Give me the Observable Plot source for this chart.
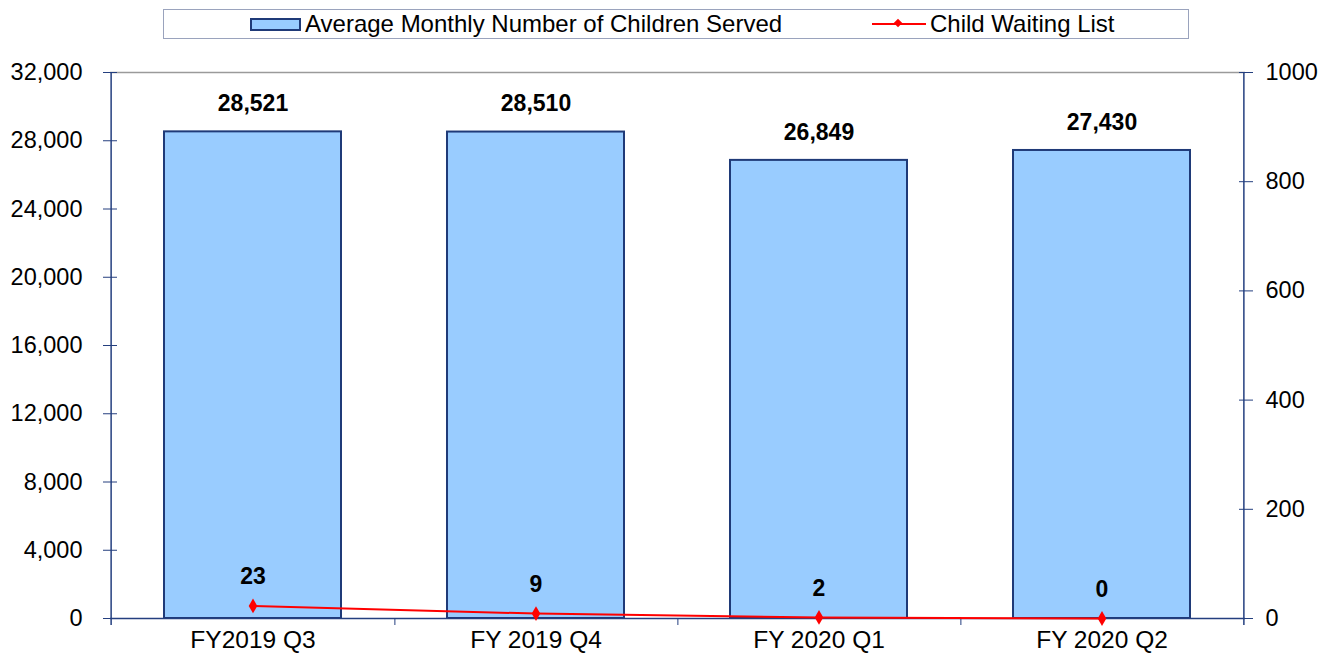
<!DOCTYPE html>
<html>
<head>
<meta charset="utf-8">
<script src="https://cdn.jsdelivr.net/npm/d3@7"></script>
<script src="https://cdn.jsdelivr.net/npm/@observablehq/plot@0.6"></script>
<style>
  html, body { margin: 0; padding: 0; background: #fff; }
  body { width: 1330px; height: 660px; overflow: hidden; font-family: "Liberation Sans", Arial, sans-serif; }
  #legend { position: relative; width: 1330px; height: 45px; }
  #legend .box { position: absolute; left: 163px; top: 9px; width: 1024px; height: 28px; border: 1px solid #9aa3bd; box-sizing: content-box; }
  #legend .item { position: absolute; top: 0; height: 28px; display: flex; align-items: center; font-size: 24px; color: #000; white-space: nowrap; }
  #legend .sw { width: 51px; height: 13px; background: #99ccff; border: 2px solid #1f3a78; margin-right: 4px; box-sizing: border-box; }
  #legend .ln { position: relative; width: 54px; height: 28px; margin-right: 4px; }
  #legend .ln::before { content: ""; position: absolute; left: 0; right: 0; top: 13px; height: 2px; background: #ff0000; }
  #legend .ln::after { content: ""; position: absolute; left: 23px; top: 10px; width: 6px; height: 6px; background: #ff0000; transform: rotate(45deg); }
</style>
</head>
<body>
<div id="legend">
  <div class="box">
    <div class="item" style="left:86px"><div class="sw"></div>Average Monthly Number of Children Served</div>
    <div class="item" style="left:708px"><div class="ln"></div>Child Waiting List</div>
  </div>
</div>
<div id="chart"></div>
<script>
// ---- data ----
const categories = ["FY2019 Q3", "FY 2019 Q4", "FY 2020 Q1", "FY 2020 Q2"];
const childrenServed = [28521, 28510, 26849, 27430];
const waitingList = [23, 9, 2, 0];
const leftTicks = [0, 4000, 8000, 12000, 16000, 20000, 24000, 28000, 32000];
const rightTicks = [0, 200, 400, 600, 800, 1000];

// ---- chart ----
const W = 1330, H = 615, ML = 110, MR = 85, MT = 27, MB = 42;
const leftMax = 32000, rightMax = 1000;
const ratio = leftMax / rightMax; // secondary axis mapped onto primary scale
const step = (W - ML - MR) / categories.length;

const bars = categories.map((c, i) => ({cat: c, v: childrenServed[i]}));
const wait = categories.map((c, i) => ({cat: c, v: waitingList[i], y: waitingList[i] * ratio}));

const axisColor = "#243f7f";
const fmt = d3.format(",");

const chart = Plot.plot({
  width: W, height: H,
  marginLeft: ML, marginRight: MR, marginTop: MT, marginBottom: MB,
  style: {fontFamily: "'Liberation Sans', Arial, sans-serif", fontSize: "23px", color: "#000", background: "#fff"},
  x: {domain: categories, paddingInner: 0.373, paddingOuter: 0.1865, axis: null, label: null},
  y: {domain: [0, leftMax], axis: null, label: null},
  marks: [
    Plot.ruleY([leftMax], {stroke: "#9a9a9a", strokeWidth: 1.5}),
    Plot.barY(bars, {x: "cat", y: "v", fill: "#99ccff", stroke: "#1f3a78", strokeWidth: 2}),
    Plot.ruleY([0], {stroke: axisColor, strokeWidth: 1.5}),
    Plot.ruleX([categories[0]], {dx: -step / 2, stroke: axisColor, strokeWidth: 1.5, insetBottom: -7}),
    Plot.ruleX([categories[categories.length - 1]], {dx: step / 2, stroke: axisColor, strokeWidth: 1.5, insetBottom: -7}),
    // x ticks at category boundaries
    Plot.axisX({ticks: categories.slice(0, -1), dx: step / 2, tickSize: 7, fill: "none", stroke: axisColor, label: null}),
    Plot.axisX({ticks: categories, tickSize: 0, tickPadding: 12, fontSize: 24.5, fill: "#000", label: null}),
    // left axis
    Plot.axisY({anchor: "left", ticks: leftTicks, tickFormat: fmt, tickSize: 14, dx: 7, tickPadding: 21, stroke: axisColor, fill: "#000", fontSize: 23.5, label: null}),
    // right axis (secondary, waiting list)
    Plot.axisY({anchor: "right", ticks: rightTicks.map(d => d * ratio), tickFormat: d => String(Math.round(d / ratio)), tickSize: 14, dx: -7, tickPadding: 13, stroke: axisColor, fill: "#000", fontSize: 23.5, label: null}),
    // waiting list line
    Plot.line(wait, {x: "cat", y: "y", stroke: "#ff0000", strokeWidth: 2}),
    Plot.dot(wait, {x: "cat", y: "y", symbol: "diamond", r: 4.5, fill: "#ff0000", stroke: "none"}),
    // labels
    Plot.text(bars, {x: "cat", y: "v", text: d => fmt(d.v), dy: -28, fontWeight: "bold", fontSize: 23, fill: "#000"}),
    Plot.text(wait, {x: "cat", y: "y", text: d => String(d.v), dy: -29, fontWeight: "bold", fontSize: 23, fill: "#000"})
  ]
});
document.getElementById("chart").appendChild(chart);
</script>
</body>
</html>
